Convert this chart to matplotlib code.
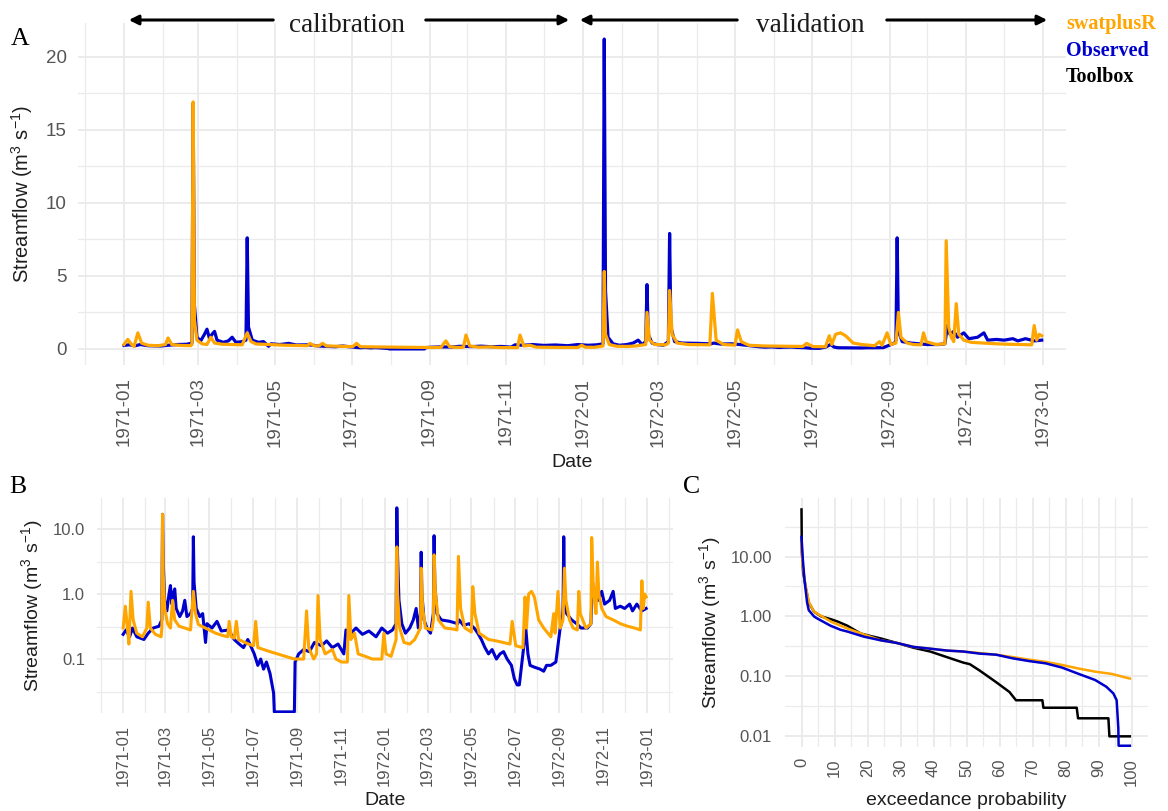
import numpy as np
import pandas as pd
import matplotlib
matplotlib.use("Agg")
import matplotlib.pyplot as plt
import matplotlib.dates as mdates
from matplotlib.patches import FancyArrowPatch
from matplotlib.ticker import FixedLocator, NullFormatter

plt.rcParams["font.family"] = ["Liberation Sans", "DejaVu Sans"]
plt.rcParams["mathtext.default"] = "regular"

# daily streamflow (m3/s)
obs_dates = [
    "1971-01-01", "1971-01-05", "1971-01-10", "1971-01-14", "1971-01-20", "1971-01-30",
    "1971-02-05", "1971-02-12", "1971-02-20", "1971-02-24", "1971-02-25", "1971-02-26",
    "1971-02-28", "1971-03-03", "1971-03-06", "1971-03-08", "1971-03-10", "1971-03-12",
    "1971-03-14", "1971-03-16", "1971-03-21", "1971-03-25", "1971-03-28", "1971-03-31",
    "1971-04-05", "1971-04-08", "1971-04-09", "1971-04-10", "1971-04-13", "1971-04-18",
    "1971-04-22", "1971-04-26", "1971-04-28", "1971-05-05", "1971-05-12", "1971-05-18",
    "1971-05-28", "1971-06-05", "1971-06-12", "1971-06-18", "1971-06-24", "1971-06-28",
    "1971-07-03", "1971-07-08", "1971-07-12", "1971-07-16", "1971-07-20", "1971-07-25",
    "1971-07-30", "1971-07-31", "1971-08-28", "1971-08-29", "1971-09-03", "1971-09-10",
    "1971-09-18", "1971-09-25", "1971-10-05", "1971-10-12", "1971-10-20", "1971-10-28",
    "1971-11-05", "1971-11-08", "1971-11-15", "1971-11-22", "1971-12-01", "1971-12-10",
    "1971-12-20", "1971-12-28", "1972-01-05", "1972-01-12", "1972-01-17", "1972-01-18",
    "1972-01-19", "1972-01-21", "1972-01-25", "1972-01-30", "1972-02-05", "1972-02-10",
    "1972-02-14", "1972-02-17", "1972-02-20", "1972-02-21", "1972-02-22", "1972-02-25",
    "1972-02-29", "1972-03-05", "1972-03-09", "1972-03-10", "1972-03-11", "1972-03-14",
    "1972-03-20", "1972-04-01", "1972-04-12", "1972-04-14", "1972-04-20", "1972-04-28",
    "1972-05-05", "1972-05-10", "1972-05-15", "1972-05-20", "1972-05-25", "1972-05-30",
    "1972-06-05", "1972-06-10", "1972-06-15", "1972-06-20", "1972-06-26", "1972-06-30",
    "1972-07-04", "1972-07-07", "1972-07-12", "1972-07-16", "1972-07-19", "1972-07-22",
    "1972-07-28", "1972-08-05", "1972-08-10", "1972-08-14", "1972-08-20", "1972-08-27",
    "1972-09-02", "1972-09-05", "1972-09-06", "1972-09-07", "1972-09-08", "1972-09-11",
    "1972-09-18", "1972-09-25", "1972-10-01", "1972-10-10", "1972-10-15", "1972-10-17",
    "1972-10-19", "1972-10-22", "1972-10-25", "1972-10-30", "1972-11-03", "1972-11-10",
    "1972-11-15", "1972-11-18", "1972-11-25", "1972-12-01", "1972-12-08", "1972-12-12",
    "1972-12-18", "1972-12-25", "1972-12-31",
]
obs_flow = [
    0.24, 0.28, 0.22, 0.30, 0.22, 0.20,
    0.25, 0.30, 0.32, 0.40, 16.8, 3.0,
    0.80, 0.55, 1.0, 1.35, 0.70, 1.0,
    1.2, 0.60, 0.45, 0.55, 0.80, 0.45,
    0.50, 0.60, 7.6, 1.5, 0.60, 0.45,
    0.50, 0.18, 0.35, 0.30, 0.38, 0.27,
    0.28, 0.20, 0.17, 0.15, 0.20, 0.16,
    0.12, 0.08, 0.10, 0.07, 0.09, 0.06,
    0.03, 0.0, 0.0, 0.09, 0.12, 0.14,
    0.13, 0.18, 0.16, 0.19, 0.15, 0.17,
    0.12, 0.28, 0.25, 0.30, 0.24, 0.27,
    0.22, 0.30, 0.25, 0.28, 0.35, 21.2,
    4.0, 0.80, 0.35, 0.25, 0.30, 0.40,
    0.60, 0.30, 0.50, 4.4, 1.0, 0.40,
    0.30, 0.25, 0.50, 7.9, 1.5, 0.50,
    0.40, 0.38, 0.35, 0.40, 0.33, 0.35,
    0.30, 0.25, 0.20, 0.15, 0.12, 0.14,
    0.10, 0.12, 0.13, 0.10, 0.08, 0.05,
    0.04, 0.04, 0.12, 0.30, 0.12, 0.08,
    0.075, 0.07, 0.065, 0.08, 0.08, 0.09,
    0.30, 0.40, 0.60, 7.6, 1.2, 0.50,
    0.40, 0.35, 0.30, 0.30, 0.35, 1.6,
    1.0, 1.2, 0.80, 1.1, 0.70, 0.80,
    1.1, 0.60, 0.65, 0.60, 0.70, 0.55,
    0.70, 0.55, 0.60,
]

sim_dates = [
    "1971-01-01", "1971-01-04", "1971-01-07", "1971-01-09", "1971-01-12", "1971-01-15",
    "1971-01-20", "1971-01-28", "1971-02-03", "1971-02-05", "1971-02-08", "1971-02-15",
    "1971-02-23", "1971-02-24", "1971-02-25", "1971-02-26", "1971-02-28", "1971-03-04",
    "1971-03-08", "1971-03-11", "1971-03-14", "1971-03-20", "1971-03-28", "1971-04-05",
    "1971-04-09", "1971-04-12", "1971-04-16", "1971-05-01", "1971-05-10", "1971-05-20",
    "1971-05-27", "1971-05-29", "1971-06-01", "1971-06-05", "1971-06-08", "1971-06-11",
    "1971-06-25", "1971-07-02", "1971-07-05", "1971-07-08", "1971-07-25", "1971-08-10",
    "1971-08-28", "1971-09-10", "1971-09-14", "1971-09-17", "1971-09-24", "1971-09-28",
    "1971-09-30", "1971-10-03", "1971-10-10", "1971-10-20", "1971-10-25", "1971-11-02",
    "1971-11-10", "1971-11-12", "1971-11-15", "1971-11-20", "1971-11-25", "1971-12-05",
    "1971-12-15", "1971-12-28", "1971-12-31", "1972-01-03", "1972-01-10", "1972-01-17",
    "1972-01-18", "1972-01-19", "1972-01-22", "1972-01-28", "1972-02-05", "1972-02-12",
    "1972-02-20", "1972-02-21", "1972-02-23", "1972-02-27", "1972-03-07", "1972-03-09",
    "1972-03-10", "1972-03-12", "1972-03-16", "1972-03-25", "1972-04-05", "1972-04-11",
    "1972-04-13", "1972-04-16", "1972-04-22", "1972-05-01", "1972-05-03", "1972-05-06",
    "1972-05-12", "1972-05-25", "1972-06-05", "1972-06-24", "1972-06-27", "1972-07-02",
    "1972-07-12", "1972-07-15", "1972-07-17", "1972-07-20", "1972-07-24", "1972-07-28",
    "1972-08-03", "1972-08-10", "1972-08-20", "1972-08-24", "1972-08-26", "1972-08-30",
    "1972-09-02", "1972-09-06", "1972-09-08", "1972-09-10", "1972-09-15", "1972-09-20",
    "1972-09-26", "1972-09-28", "1972-09-30", "1972-10-08", "1972-10-15", "1972-10-16",
    "1972-10-18", "1972-10-20", "1972-10-22", "1972-10-24", "1972-10-26", "1972-10-30",
    "1972-11-05", "1972-11-15", "1972-11-25", "1972-12-05", "1972-12-15", "1972-12-23",
    "1972-12-25", "1972-12-27", "1972-12-29", "1972-12-31",
]
sim_flow = [
    0.30, 0.65, 0.30, 0.17, 1.1, 0.40,
    0.25, 0.22, 0.30, 0.75, 0.30, 0.24,
    0.22, 0.30, 16.9, 2.0, 0.60, 0.35,
    0.30, 0.80, 0.40, 0.32, 0.30, 0.28,
    1.1, 0.50, 0.34, 0.28, 0.25, 0.23,
    0.22, 0.38, 0.22, 0.21, 0.38, 0.20,
    0.17, 0.16, 0.38, 0.15, 0.13, 0.115,
    0.10, 0.10, 0.55, 0.15, 0.10, 0.12,
    0.95, 0.20, 0.12, 0.14, 0.10, 0.09,
    0.09, 0.95, 0.20, 0.25, 0.12, 0.11,
    0.10, 0.10, 0.25, 0.12, 0.11, 0.20,
    5.3, 1.0, 0.30, 0.18, 0.17, 0.20,
    0.30, 2.5, 0.60, 0.30, 0.28, 0.40,
    4.0, 1.0, 0.40, 0.30, 0.29, 0.28,
    3.8, 0.60, 0.30, 0.26, 1.3, 0.50,
    0.25, 0.20, 0.19, 0.17, 0.38, 0.16,
    0.15, 0.90, 0.30, 1.0, 1.1, 0.90,
    0.40, 0.30, 0.22, 0.50, 0.25, 1.1,
    0.30, 0.40, 2.5, 0.80, 0.40, 0.30,
    0.28, 1.1, 0.50, 0.30, 0.35, 7.4,
    1.5, 0.80, 0.50, 3.1, 1.0, 0.60,
    0.45, 0.40, 0.35, 0.32, 0.30, 0.28,
    1.6, 0.60, 1.0, 0.90,
]

# flow duration curves (exceedance probability %, m3/s)
tb_prob = [0, 0.1, 0.5, 1.3, 2.2, 3.8, 6, 8.9, 11, 13.9, 17.9, 21, 24, 29, 34, 39, 44,
           49, 51, 54, 59, 63, 65, 73, 73.3, 83.4, 83.8, 93, 93.3, 99.5]
tb_flow = [61, 12, 5.5, 3.0, 1.7, 1.2, 1.0, 0.9, 0.82, 0.7, 0.52, 0.47, 0.43, 0.36, 0.3,
           0.26, 0.21, 0.17, 0.16, 0.125, 0.08, 0.055, 0.04, 0.04, 0.03, 0.03, 0.02,
           0.02, 0.01, 0.01]
obs_prob = [0, 0.4, 0.9, 1.7, 2.2, 3.8, 4.7, 8.8, 11.8, 13.9, 18.9, 24, 29, 34, 39, 44,
            49, 54, 59, 64, 69, 74, 79, 84, 89, 92.4, 94.5, 95.5, 96, 96.1, 99.5]
obs_fdc = [21.2, 9, 4.1, 1.7, 1.27, 1.0, 0.93, 0.7, 0.6, 0.56, 0.46, 0.4, 0.36, 0.31,
           0.29, 0.27, 0.26, 0.24, 0.23, 0.2, 0.18, 0.165, 0.14, 0.11, 0.087, 0.067,
           0.052, 0.04, 0.014, 0, 0]
sim_prob = [0, 0.3, 1.3, 2.3, 3.8, 8.9, 13.9, 18.9, 24, 29, 34, 39, 44, 49, 54, 59, 64,
            69, 74, 79, 84, 89, 94, 99.5]
sim_fdc = [17, 7.4, 3.1, 1.7, 1.2, 0.82, 0.63, 0.5, 0.4, 0.36, 0.31, 0.29, 0.27, 0.26,
           0.245, 0.23, 0.21, 0.19, 0.175, 0.155, 0.135, 0.12, 0.11, 0.092]

ORANGE = "#FFA500"
BLUE = "#0000CD"
GRID = "#EBEBEB"
TICK = "#555555"
TITLE = "#1e1e1e"
YLAB = "Streamflow (m$^3$ s$^{-1}$)"

obs_t = pd.to_datetime(obs_dates)
sim_t = pd.to_datetime(sim_dates)
obs_q = np.array(obs_flow)
sim_q = np.array(sim_flow)

W, H = 1168, 811
fig = plt.figure(figsize=(W / 100, H / 100), dpi=100)


def add_ax(l, t, r, b):
    return fig.add_axes([l / W, 1 - b / H, (r - l) / W, (b - t) / H])


def style(ax, size):
    for s in ax.spines.values():
        s.set_visible(False)
    ax.grid(True, which="major", color=GRID, lw=1.4)
    ax.grid(True, which="minor", color=GRID, lw=0.9)
    ax.set_axisbelow(True)
    ax.tick_params(which="both", length=0, labelsize=size, labelcolor=TICK)


def date_axis(ax):
    ax.xaxis.set_major_locator(mdates.MonthLocator(bymonth=[1, 3, 5, 7, 9, 11]))
    ax.xaxis.set_minor_locator(mdates.MonthLocator(bymonth=[2, 4, 6, 8, 10, 12]))
    ax.xaxis.set_major_formatter(mdates.DateFormatter("%Y-%m"))
    ax.tick_params(axis="x", labelrotation=90)


d0 = pd.Timestamp("1971-01-01")
d1 = pd.Timestamp("1973-01-01")

# ---- A: linear hydrograph
axA = add_ax(78, 23, 1066, 365)
axA.plot(obs_t, obs_q, color=BLUE, lw=2.3)
axA.plot(sim_t, sim_q, color=ORANGE, lw=2.3)
axA.set_xlim(d0 - pd.Timedelta(days=36.6), d1 + pd.Timedelta(days=18.3))
axA.set_ylim(-1.1, 22.3)
axA.set_yticks([0, 5, 10, 15, 20])
axA.yaxis.set_minor_locator(FixedLocator([2.5, 7.5, 12.5, 17.5]))
date_axis(axA)
style(axA, 13.5)
axA.tick_params(axis="y", pad=8)
axA.tick_params(axis="x", pad=9)
axA.set_ylabel(YLAB, fontsize=14.5, color=TITLE)
axA.set_xlabel("Date", fontsize=14, color=TITLE)
axA.yaxis.set_label_coords(-0.0567, 0.5)
axA.xaxis.set_label_coords(0.5, -0.284)
axA.yaxis.label.set_va("center")
axA.xaxis.label.set_va("center")

# ---- B: log hydrograph
axB = add_ax(97, 498, 673, 713)
ylo_B, yhi_B = 0.0148, 30
axB.set_yscale("log")
axB.plot(obs_t, np.where(obs_q > 0, obs_q, ylo_B * 1.04), color=BLUE, lw=2.2)
axB.plot(sim_t, sim_q, color=ORANGE, lw=2.2)
axB.set_xlim(d0 - pd.Timedelta(days=36.5), d1 + pd.Timedelta(days=36.5))
axB.set_ylim(ylo_B, yhi_B)
axB.yaxis.set_major_locator(FixedLocator([0.1, 1, 10]))
axB.set_yticklabels(["0.1", "1.0", "10.0"])
axB.yaxis.set_minor_locator(FixedLocator([10 ** -1.5, 10 ** -0.5, 10 ** 0.5]))
axB.yaxis.set_minor_formatter(NullFormatter())
date_axis(axB)
style(axB, 12)
axB.tick_params(axis="y", pad=8.5)
axB.tick_params(axis="x", pad=8.5)
axB.set_ylabel(YLAB, fontsize=14, color=TITLE)
axB.set_xlabel("Date", fontsize=14, color=TITLE)
axB.yaxis.set_label_coords(-0.112, 0.5)
axB.xaxis.set_label_coords(0.5, -0.405)
axB.yaxis.label.set_va("center")
axB.xaxis.label.set_va("center")

# ---- C: flow duration curves
axC = add_ax(785, 498, 1148, 747)
ylo_C, yhi_C = 0.00664, 94.6
axC.set_yscale("log")
axC.plot(tb_prob, tb_flow, color="black", lw=1.8)
axC.plot(sim_prob, sim_fdc, color=ORANGE, lw=1.8)
obs_fdc_arr = np.array(obs_fdc)
axC.plot(obs_prob, np.where(obs_fdc_arr > 0, obs_fdc_arr, ylo_C * 1.05), color=BLUE, lw=1.8)
axC.set_xlim(-5, 105)
axC.set_ylim(ylo_C, yhi_C)
axC.set_xticks(np.arange(0, 101, 10))
axC.xaxis.set_minor_locator(FixedLocator(np.arange(5, 100, 10)))
axC.yaxis.set_major_locator(FixedLocator([0.01, 0.1, 1, 10]))
axC.set_yticklabels(["0.01", "0.10", "1.00", "10.00"])
axC.yaxis.set_minor_locator(FixedLocator([10 ** -1.5, 10 ** -0.5, 10 ** 0.5, 10 ** 1.5]))
axC.yaxis.set_minor_formatter(NullFormatter())
axC.tick_params(axis="x", labelrotation=90)
style(axC, 12)
axC.tick_params(axis="y", pad=9.4)
axC.tick_params(axis="x", pad=8)
axC.set_ylabel(YLAB, fontsize=14, color=TITLE)
axC.set_xlabel("exceedance probability", fontsize=14, color=TITLE)
axC.yaxis.set_label_coords(-0.207, 0.5)
axC.xaxis.set_label_coords(0.5, -0.213)
axC.yaxis.label.set_va("center")
axC.xaxis.label.set_va("center")

# ---- panel letters
serif = ["Liberation Serif", "DejaVu Serif"]
for lab, x, y in [("A", 11, 45), ("B", 9, 493), ("C", 683, 493)]:
    fig.text(x / W, 1 - y / H, lab, family=serif, fontsize=18.5, va="baseline", ha="left")

# ---- calibration / validation arrows
ay = 1 - 20 / H
for a, b in [(276, 126), (423, 572), (740, 577), (884, 1050)]:
    fig.add_artist(FancyArrowPatch((a / W, ay), (b / W, ay), transform=fig.transFigure,
                                   arrowstyle="-|>", mutation_scale=14, lw=2.2,
                                   color="black"))
fig.text(347 / W, 1 - 32 / H, "calibration", family=serif, fontsize=19.5,
         ha="center", va="baseline", color="#1a1a1a")
fig.text(810 / W, 1 - 32 / H, "validation", family=serif, fontsize=19.5,
         ha="center", va="baseline", color="#1a1a1a")

# ---- legend text
for lab, col, y in [("swatplusR", ORANGE, 29), ("Observed", BLUE, 56), ("Toolbox", "black", 82)]:
    fig.text(1066 / W, 1 - y / H, lab, family=serif, fontsize=14.5, fontweight="bold",
             color=col, ha="left", va="baseline")

fig.savefig("out.png", dpi=100)
